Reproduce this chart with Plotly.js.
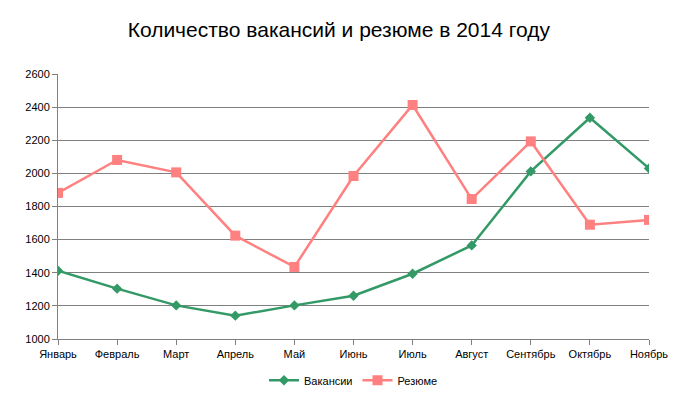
<!DOCTYPE html>
<html>
<head>
<meta charset="utf-8">
<script src="https://cdn.plot.ly/plotly-3.0.1.min.js"></script>
<style>html,body{margin:0;padding:0;background:#fff}#chart{width:700px;height:399px}</style>
</head>
<body>
<div id="chart"></div>
<script>
const months = ["Январь","Февраль","Март","Апрель","Май","Июнь","Июль","Август","Сентябрь","Октябрь","Ноябрь"];
const vacancies = [1412,1304,1203,1141,1203,1261,1394,1565,2012,2336,2030];
const resumes = [1882,2081,2006,1624,1435,1984,2413,1845,2193,1690,1719];
const yTicks = [1000,1200,1400,1600,1800,2000,2200,2400,2600];

const traces = [
  {x: months, y: vacancies, name: "Вакансии", type: "scatter", mode: "lines+markers",
   line: {color: "#339966", width: 2.5}, marker: {symbol: "diamond", size: 8, color: "#339966"}},
  {x: months, y: resumes, name: "Резюме", type: "scatter", mode: "lines+markers",
   line: {color: "#ff8080", width: 2.5}, marker: {symbol: "square", size: 10, color: "#ff8080"}}
];

const layout = {
  width: 700, height: 399,
  margin: {l: 58, r: 51, t: 74, b: 60},
  paper_bgcolor: "#fff", plot_bgcolor: "#fff",
  font: {family: "Liberation Sans, Arial, sans-serif", size: 11, color: "#000"},
  title: {text: "Количество вакансий и резюме в 2014 году", x: 0.484, xanchor: "center", y: 0.925, yanchor: "middle",
          font: {family: "Liberation Sans, Arial, sans-serif", size: 21, color: "#000"}},
  xaxis: {type: "category", range: [0, months.length - 1], showgrid: false, zeroline: false,
          showline: true, linecolor: "#808080", linewidth: 1, automargin: false,
          ticks: "outside", ticklen: 5, tickcolor: "#808080", tickfont: {size: 11},
          fixedrange: true},
  yaxis: {range: [1000, 2600], tickvals: yTicks, ticktext: yTicks.map(String), automargin: false,
          showgrid: true, gridcolor: "#808080", gridwidth: 1, zeroline: false,
          showline: true, linecolor: "#808080", linewidth: 1,
          ticks: "outside", ticklen: 5, tickcolor: "#808080", tickfont: {size: 11}},
  showlegend: true,
  legend: {orientation: "h", x: 0.5, xanchor: "center", yref: "container", y: 0.047, yanchor: "middle",
           font: {size: 11}, itemwidth: 30},
};

Plotly.newPlot("chart", traces, layout, {displayModeBar: false, staticPlot: true});
</script>
</body>
</html>
